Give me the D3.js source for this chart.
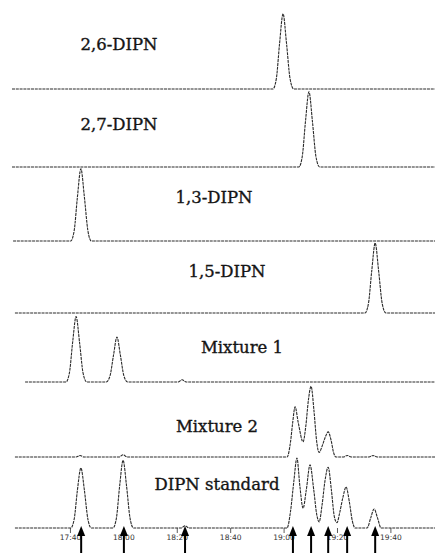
<!DOCTYPE html>
<html>
<head>
<meta charset="utf-8">
<script src="https://cdn.jsdelivr.net/npm/d3@7"></script>
<style>
  body { margin: 0; background: #fff; }
  svg { display: block; }
</style>
</head>
<body>
<div id="vis-container"></div>
<script>
// retention time in seconds, signal in relative units (0-100)
const trace26 = [[1038.3,0],[1136,0],[1137.3,14],[1138.5,60],[1139.8,99],[1141.1,60],[1142.4,14],[1143.8,0],[1196.7,0]];
const trace27 = [[1038.3,0],[1145.7,0],[1147,14],[1148.2,60],[1149.5,99],[1150.8,60],[1152.1,14],[1153.5,0],[1196.7,0]];
const trace13 = [[1038.7,0],[1060.3,0],[1061.6,14],[1062.8,58],[1064.1,95],[1065.4,58],[1066.7,14],[1068,0],[1196.7,0]];
const trace15 = [[1039.4,0],[1170.5,0],[1171.8,13],[1173,55],[1174.3,92],[1175.6,55],[1176.9,13],[1178.3,0],[1196.7,0]];
const traceMix1 = [[1043.2,0],[1058.5,0],[1059.8,12],[1061,52],[1062.3,86],[1063.6,52],[1064.9,12],[1066.3,0],
  [1073.6,0],[1075,8],[1076.3,35],[1077.6,59],[1078.9,35],[1080.2,8],[1081.6,0],
  [1100.5,0],[1102,3],[1103.5,0],[1196.7,0]];
const traceMix2 = [[1039.4,0],[1062.3,0],[1063.8,2],[1065.3,0],[1078.4,0],[1079.9,3],[1081.4,0],
  [1141.3,0],[1142.6,20],[1143.4,45],[1144.3,66],[1145.5,45],[1147.3,20],[1148.3,40],[1149.3,75],[1150.3,93],
  [1151.4,60],[1152.4,20],[1153.3,6],[1154.5,15],[1155.6,26],[1156.7,33],[1157.8,22],[1158.7,6],[1159.6,0],
  [1162.3,0],[1163.8,2],[1165.3,0],[1172,0],[1173.5,2],[1175,0],[1196.7,0]];
const traceStd = [[1039.4,0],[1060.3,0],[1061.6,12],[1062.8,50],[1064.1,79],[1065.4,50],[1066.7,12],[1068,0],
  [1076.1,0],[1077.4,13],[1078.6,55],[1079.9,89],[1081.2,55],[1082.5,13],[1083.8,0],
  [1101.6,0],[1103.1,3],[1104.6,0],
  [1141.3,0],[1142.6,22],[1143.8,60],[1145,92],[1146.1,55],[1147.3,26],[1148.5,50],[1149.9,83],[1151.3,50],
  [1152.4,18],[1153.3,8],[1154.4,30],[1155.5,62],[1156.7,80],[1157.9,50],[1159,15],[1160,7],[1161,20],
  [1162.2,40],[1163.4,54],[1164.6,35],[1165.7,10],[1166.8,0],
  [1171.3,0],[1172.6,13],[1173.9,25],[1175.2,13],[1176.5,0],[1196.7,0]];

const panelNames = ["2,6-DIPN", "2,7-DIPN", "1,3-DIPN", "1,5-DIPN", "Mixture 1", "Mixture 2", "DIPN standard"];
const panelTraces = [trace26, trace27, trace13, trace15, traceMix1, traceMix2, traceStd];

const tickValues = [1060, 1080, 1100, 1120, 1140, 1160, 1180];
const arrowTimes = [1064.2, 1080.2, 1103.1, 1143.5, 1150.3, 1156.7, 1163.8, 1174.3];

// layout
const W = 435, H = 555;
const baselines = [89, 167, 241, 313, 382, 457, 528];
const labelPos = [[119, 50], [119, 130], [214, 203], [227, 277], [242, 353], [217, 432], [217, 490]];

const svg = d3.select("#vis-container")
  .append("svg")
    .attr("width", W)
    .attr("height", H);

const x = d3.scaleLinear()
  .domain([1038.3, 1196.7])
  .range([12, 435]);

const sig = d3.scaleLinear()
  .domain([0, 100])
  .range([0, 76]);

// Traces
panelTraces.forEach((tr, i) => {
  const line = d3.line()
    .x(d => x(d[0]))
    .y(d => baselines[i] - sig(d[1]))
    .curve(d3.curveMonotoneX);

  svg.append("path")
    .datum(tr)
    .attr("fill", "none")
    .attr("stroke", "#2a2a2a")
    .attr("stroke-width", 1.1)
    .attr("stroke-dasharray", "3,0.8")
    .attr("d", line);

  svg.append("text")
    .attr("x", labelPos[i][0])
    .attr("y", labelPos[i][1])
    .attr("text-anchor", "middle")
    .style("font-family", "'DejaVu Serif', serif")
    .style("font-size", "16.5px")
    .style("fill", "#151515")
    .style("stroke", "#151515")
    .style("stroke-width", 0.35)
    .text(panelNames[i]);
});

// Time axis
const fmt = s => `${Math.floor(s / 60)}:${String(s % 60).padStart(2, "0")}`;
const axis = svg.append("g")
  .attr("transform", `translate(0,${baselines[6]})`)
  .call(d3.axisBottom(x).tickValues(tickValues).tickFormat(fmt).tickSize(5).tickPadding(2));
axis.select(".domain").remove();
axis.selectAll(".tick line").attr("stroke", "#333").attr("stroke-width", 0.8);
axis.selectAll(".tick text")
  .style("font-family", "'DejaVu Sans', sans-serif")
  .style("font-size", "7.5px")
  .style("fill", "#333");

// Arrows
const arrows = svg.append("g");
arrowTimes.forEach(t => {
  const ax = x(t);
  arrows.append("line")
    .attr("x1", ax).attr("x2", ax)
    .attr("y1", 553).attr("y2", 534)
    .attr("stroke", "#000")
    .attr("stroke-width", 2);
  arrows.append("path")
    .attr("d", `M${ax},526 L${ax - 4},536 L${ax + 4},536 Z`)
    .attr("fill", "#000");
});
</script>
</body>
</html>
